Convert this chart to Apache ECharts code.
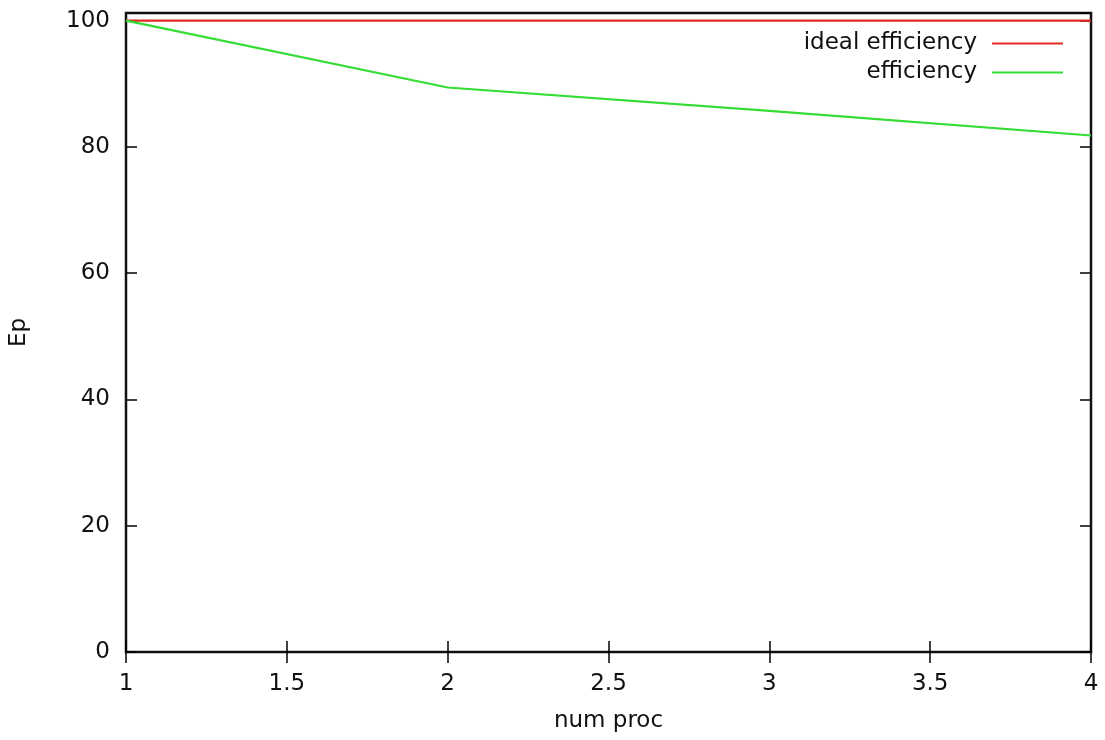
<!DOCTYPE html>
<html>
<head>
    <meta charset="utf-8" />
    <title>efficiency</title>
    <script src="https://cdn.jsdelivr.net/npm/echarts@6/dist/echarts.min.js"></script>
    <style>
        html, body { margin: 0; padding: 0; background: #fff; }
    </style>
</head>
<body>
    <div id="main" style="width: 1105px;height:740px;"></div>
    <script type="text/javascript">
        // data
        var numProc = [1, 2, 3, 4];
        var idealEfficiency = [100, 100, 100, 100];
        var efficiency = [100, 89.4, 85.7, 81.8];

        function pairs(xs, ys) {
            var out = [];
            for (var i = 0; i < xs.length; i++) {
                out.push([xs[i], ys[i]]);
            }
            return out;
        }

        var font = 'DejaVu Sans';
        var fs = 23;
        var myChart = echarts.init(document.getElementById('main'));

        var tickStyle = { show: true, inside: true, length: 11, lineStyle: { color: '#000', width: 1.5 } };

        var option = {
            animation: false,
            backgroundColor: '#fff',
            textStyle: { fontFamily: font },
            grid: {
                left: 126, right: 14, top: 13, bottom: 88,
                show: true, borderColor: '#111', borderWidth: 2.5
            },
            legend: [
                {
                    data: ['ideal efficiency'],
                    right: 37, top: 27,
                    align: 'right',
                    itemWidth: 71, itemHeight: 2,
                    icon: 'rect',
                    textStyle: { fontFamily: font, fontSize: fs, color: '#111', padding: [0, 10, 0, 0] }
                },
                {
                    data: ['efficiency'],
                    right: 37, top: 56,
                    align: 'right',
                    itemWidth: 71, itemHeight: 2,
                    icon: 'rect',
                    textStyle: { fontFamily: font, fontSize: fs, color: '#111', padding: [0, 10, 0, 0] }
                }
            ],
            xAxis: [
                {
                    type: 'value', min: 1, max: 4, interval: 0.5,
                    name: 'num proc', nameLocation: 'middle', nameGap: 58,
                    nameTextStyle: { fontFamily: font, fontSize: fs, color: '#111' },
                    axisLine: { show: false },
                    axisTick: tickStyle,
                    splitLine: { show: false },
                    axisLabel: { margin: 21, fontFamily: font, fontSize: fs, color: '#111' }
                },
                {
                    type: 'value', min: 1, max: 4, interval: 0.5, position: 'top',
                    axisLine: { show: false },
                    axisTick: tickStyle,
                    splitLine: { show: false },
                    axisLabel: { show: false }
                }
            ],
            yAxis: [
                {
                    type: 'value', min: 0, max: 101.2, interval: 20,
                    name: 'Ep', nameLocation: 'middle', nameGap: 95, nameRotate: 90,
                    nameTextStyle: { fontFamily: font, fontSize: fs, color: '#111' },
                    axisLine: { show: false },
                    axisTick: tickStyle,
                    splitLine: { show: false },
                    axisLabel: { margin: 16, fontFamily: font, fontSize: fs, color: '#111', showMaxLabel: false }
                },
                {
                    type: 'value', min: 0, max: 101.2, interval: 20, position: 'right',
                    axisLine: { show: false },
                    axisTick: tickStyle,
                    splitLine: { show: false },
                    axisLabel: { show: false }
                }
            ],
            series: [
                {
                    name: 'ideal efficiency',
                    type: 'line',
                    data: pairs(numProc, idealEfficiency),
                    showSymbol: false,
                    color: '#e02a22',
                    lineStyle: { color: '#e02a22', width: 2.2 }
                },
                {
                    name: 'efficiency',
                    type: 'line',
                    data: pairs(numProc, efficiency),
                    showSymbol: false,
                    color: '#33dd33',
                    lineStyle: { color: '#33dd33', width: 2.2 }
                }
            ]
        };
        myChart.setOption(option);
    </script>
</body>
</html>
